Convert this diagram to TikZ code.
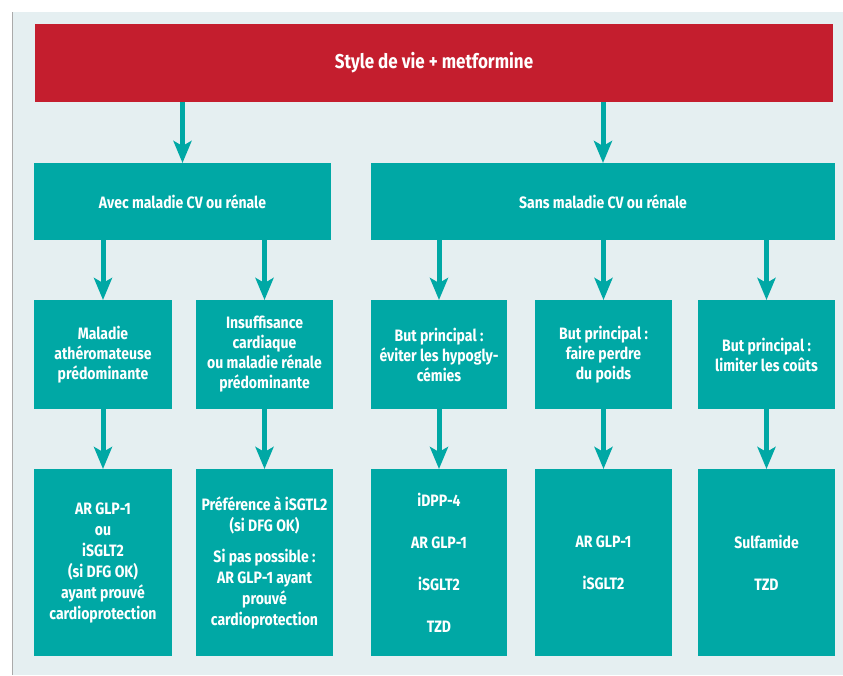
\documentclass[tikz,border=0pt]{standalone}
\usepackage{fontspec}
\setmainfont{Fira Sans}[FakeStretch=0.85]
\usetikzlibrary{arrows.meta}
\definecolor{teal1}{RGB}{0,168,165}
\definecolor{red1}{RGB}{196,30,46}
\definecolor{panel}{RGB}{229,239,241}
\definecolor{edge}{RGB}{170,170,170}
\tikzset{
  box/.style={fill=teal1, draw=none, outer sep=0pt, inner sep=0pt, text=white,
    font=\fontsize{16.5}{20}\selectfont\bfseries, align=center},
  redbox/.style={box, fill=red1, font=\fontsize{20}{24}\selectfont\bfseries},
  lowbox/.style={box, font=\fontsize{16.5}{21}\selectfont\bfseries},
  arr/.style={draw=teal1, line width=5pt, -{Stealth[length=22pt,width=18pt,inset=5pt]}}
}
\begin{document}
\begin{tikzpicture}[x=1pt,y=-1pt]
\useasboundingbox (0,0) rectangle (843,675);
\fill[white] (0,0) rectangle (843,675);
\fill[panel] (12,12) rectangle (843,675);
\draw[edge, line width=1pt] (12,12) -- (12,675);

\node[redbox, minimum width=798pt, minimum height=78pt] (red) at (434,63) {Style de vie + metformine};

\node[box, minimum width=297pt, minimum height=77pt] (avec) at (182.5,201.5) {Avec maladie CV ou rénale};
\node[box, minimum width=464pt, minimum height=77pt] (sans) at (603,201.5) {Sans maladie CV ou rénale};

\node[box, minimum width=138pt, minimum height=109pt] (m1) at (103,354.5) {Maladie\\athéromateuse\\prédominante};
\node[box, minimum width=137pt, minimum height=109pt] (m2) at (264.5,354.5) {Insuffisance\\cardiaque\\ou maladie rénale\\prédominante};
\node[box, minimum width=136pt, minimum height=109pt] (m3) at (439,354.5) {But principal :\\éviter les hypogly-\\cémies};
\node[box, minimum width=137pt, minimum height=109pt] (m4) at (603.5,354.5) {But principal :\\faire perdre\\du poids};
\node[box, minimum width=137pt, minimum height=109pt] (m5) at (766.5,354.5) {But principal :\\limiter les coûts};

\node[lowbox, minimum width=138pt, minimum height=187pt] (r1) at (103,562.5) {AR GLP-1\\ou\\iSGLT2\\(si DFG OK)\\ayant prouvé\\cardioprotection};
\node[lowbox, minimum width=137pt, minimum height=187pt] (r2) at (264.5,562.5) {Préférence à iSGTL2\\(si DFG OK)\\[10pt]Si pas possible :\\AR GLP-1 ayant\\prouvé\\cardioprotection};
\node[lowbox, minimum width=136pt, minimum height=187pt] (r3) at (439,562.5) {iDPP-4\\[21pt]AR GLP-1\\[21pt]iSGLT2\\[21pt]TZD};
\node[lowbox, minimum width=137pt, minimum height=187pt] (r4) at (603.5,562.5) {AR GLP-1\\[21pt]iSGLT2};
\node[lowbox, minimum width=137pt, minimum height=187pt] (r5) at (766.5,562.5) {Sulfamide\\[21pt]TZD};

\draw[arr] (red.south -| avec.north) -- (avec.north);
\draw[arr] (red.south -| sans.north) -- (sans.north);
\draw[arr] (avec.south -| m1.north) -- (m1.north);
\draw[arr] (avec.south -| m2.north) -- (m2.north);
\draw[arr] (sans.south -| m3.north) -- (m3.north);
\draw[arr] (sans.south -| m4.north) -- (m4.north);
\draw[arr] (sans.south -| m5.north) -- (m5.north);
\foreach \i in {1,...,5} {
  \draw[arr] (m\i.south) -- (r\i.north);
}
\end{tikzpicture}
\end{document}
